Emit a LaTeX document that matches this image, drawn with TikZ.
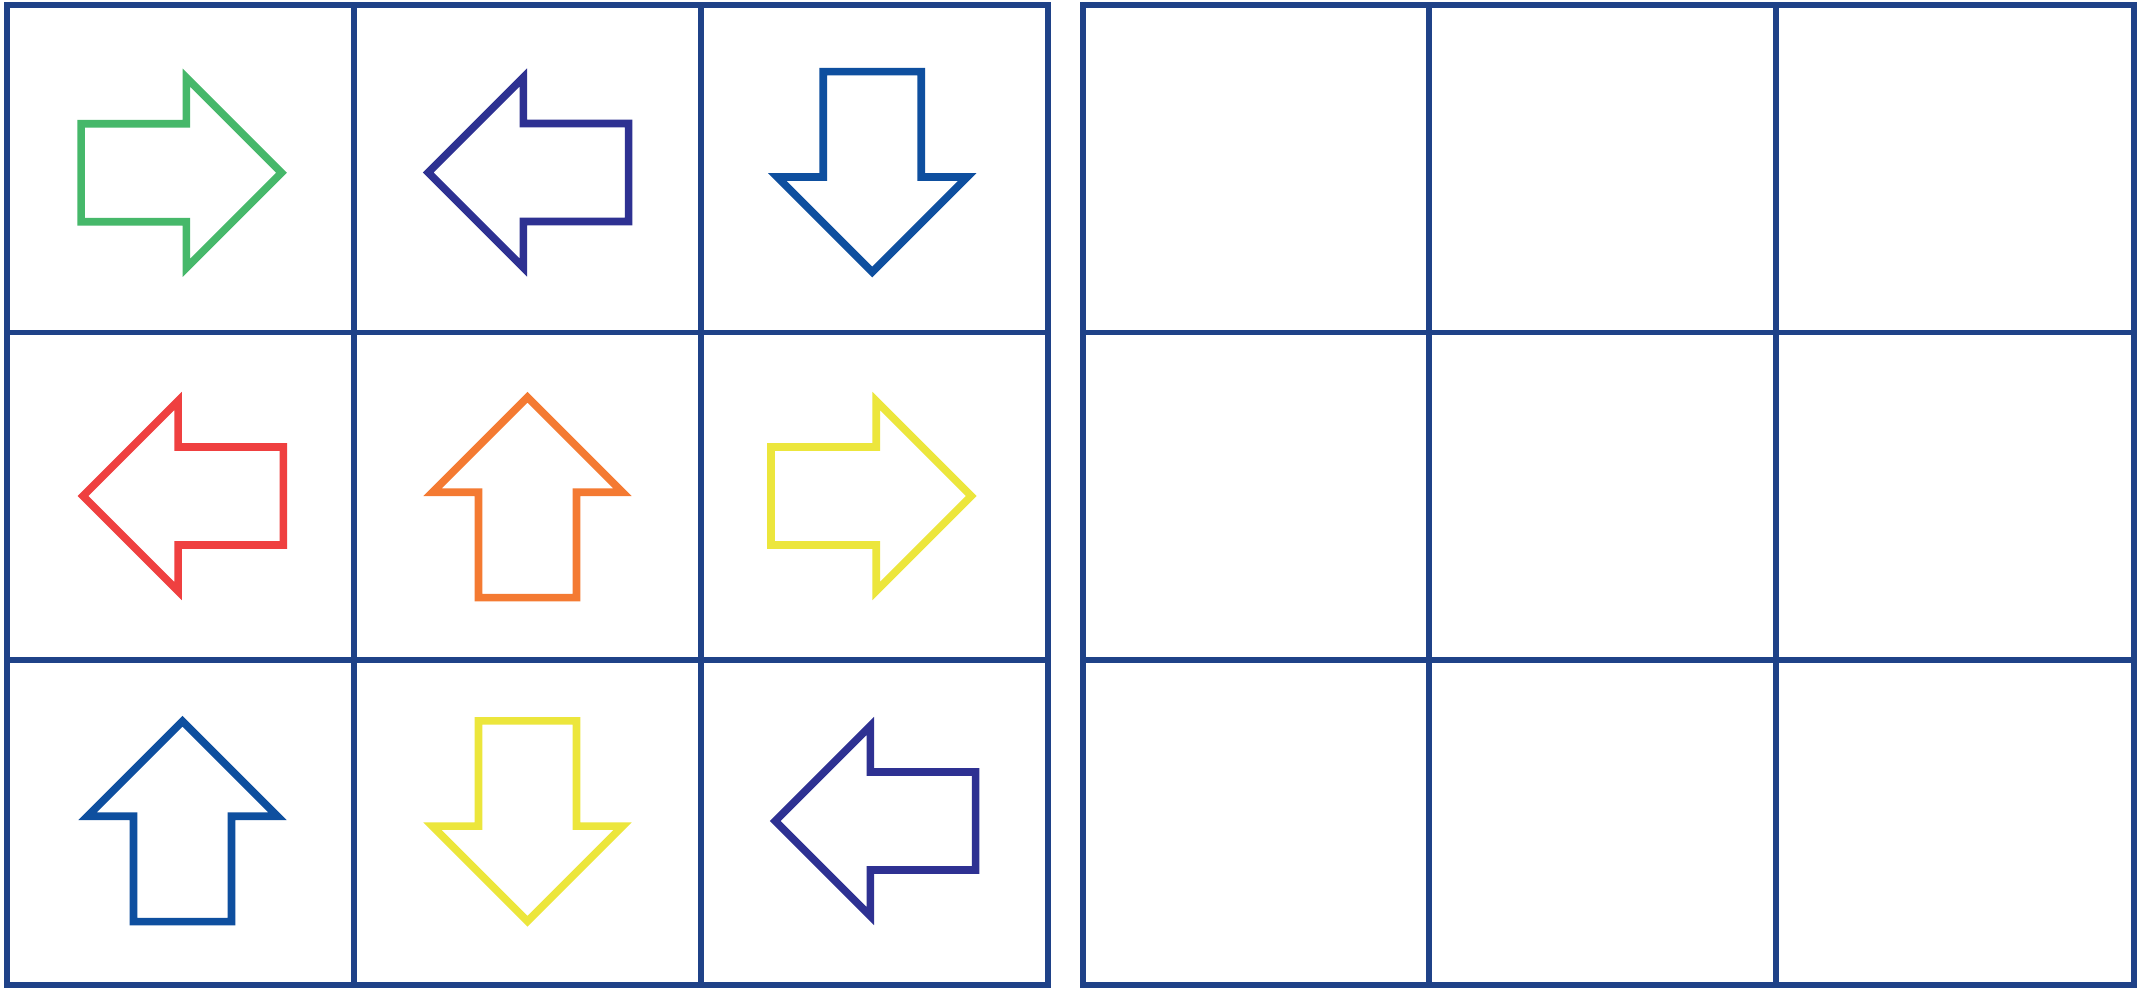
\documentclass[tikz,border=0pt]{standalone}
\definecolor{gridblue}{RGB}{31,66,136}
\definecolor{agreen}{RGB}{70,184,106}
\definecolor{apurple}{RGB}{46,49,146}
\definecolor{ablue}{RGB}{14,79,159}
\definecolor{ared}{RGB}{239,64,64}
\definecolor{aorange}{RGB}{244,122,50}
\definecolor{ayellow}{RGB}{236,230,60}
\tikzset{
  gridline/.style={draw=gridblue, line width=1.56pt, line cap=rect},
  arrowline/.style={line width=2.16pt, miter limit=10},
}
\newcommand\cellarrow[4]{%
  \draw[arrowline, draw=#4, shift={(#1,#2)}, rotate=#3]
    (-100.15,-49) -- (5.15,-49) -- (5.15,-95) -- (100.15,0) -- (5.15,95) -- (5.15,49) -- (-100.15,49) -- cycle;
}
\begin{document}
\begin{tikzpicture}[x=0.01cm, y=-0.01cm]
  \useasboundingbox (0,0) rectangle (2138,987);
  \fill[white] (0,0) rectangle (2138,987);
  % left grid
  \draw[gridline] (7,5) rectangle (1048,985);
  \draw[gridline] (354,5) -- (354,985);
  \draw[gridline] (701,5) -- (701,985);
  \draw[gridline] (7,332.5) -- (1048,332.5);
  \draw[gridline] (7,660) -- (1048,660);
  % right grid
  \draw[gridline] (1083,5) rectangle (2134,985);
  \draw[gridline] (1429,5) -- (1429,985);
  \draw[gridline] (1776,5) -- (1776,985);
  \draw[gridline] (1083,332.5) -- (2134,332.5);
  \draw[gridline] (1083,660) -- (2134,660);
  % arrows
  \cellarrow{181.3}{172.7}{0}{agreen}
  \cellarrow{528.5}{172.5}{180}{apurple}
  \cellarrow{872.2}{171.8}{-90}{ablue}
  \cellarrow{183.2}{496}{180}{ared}
  \cellarrow{527.5}{497.4}{90}{aorange}
  \cellarrow{871.1}{496}{0}{ayellow}
  \cellarrow{182.5}{821.4}{90}{ablue}
  \cellarrow{527.5}{821}{-90}{ayellow}
  \cellarrow{875.5}{821}{180}{apurple}
\end{tikzpicture}
\end{document}
